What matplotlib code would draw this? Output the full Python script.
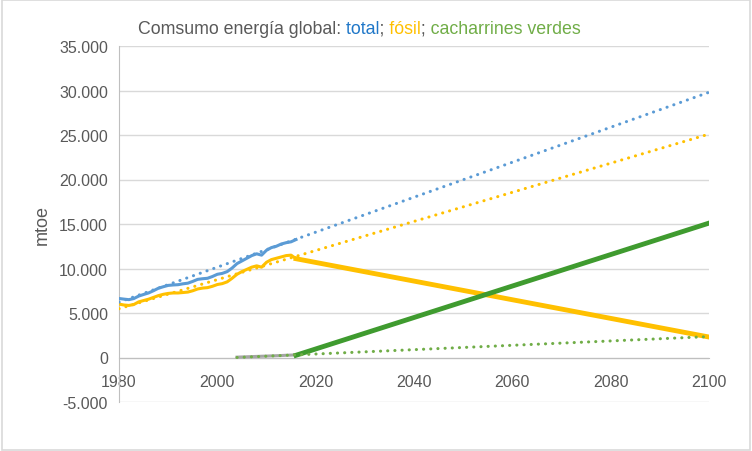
import numpy as np
import matplotlib.pyplot as plt
from matplotlib.ticker import FuncFormatter
from matplotlib.transforms import Bbox

# historical data, mtoe
years = list(range(1980, 2017))
total = [6630, 6560, 6500, 6620, 6900, 7080, 7250, 7500, 7780, 7950,
         8100, 8150, 8180, 8280, 8350, 8550, 8780, 8850, 8900, 9100,
         9350, 9450, 9650, 10050, 10550, 10850, 11150, 11450, 11650, 11500,
         12050, 12350, 12500, 12750, 12900, 13000, 13250]
fosil = [6000, 5900, 5850, 5950, 6250, 6400, 6550, 6750, 6950, 7100,
         7200, 7250, 7250, 7300, 7350, 7500, 7700, 7800, 7850, 8000,
         8200, 8300, 8500, 8900, 9350, 9650, 9900, 10150, 10300, 10150,
         10700, 11000, 11150, 11300, 11450, 11500, 11100]
verdes_years = list(range(2004, 2017))
verdes = [40, 60, 80, 100, 120, 140, 160, 180, 200, 220, 250, 270, 300]

# projections 2016 -> 2100
proj_years = [2016, 2100]
fosil_proj = [11100, 2300]
verdes_proj = [250, 15100]

# linear trend lines (endpoints)
trend_total_x = [1980, 2100]
trend_total_y = [6220, 29800]
trend_fosil_x = [1980, 2100]
trend_fosil_y = [5480, 25100]
trend_verdes_x = [2004, 2100]
trend_verdes_y = [0, 2350]

blue = "#5B9BD5"
yellow = "#FFC000"
green = "#70AD47"
dkgreen = "#3F9B2F"
grey = "#595959"

plt.rcParams['font.family'] = ['Liberation Sans', 'DejaVu Sans']

fig = plt.figure(figsize=(7.52, 4.52), dpi=100)
ax = fig.add_axes([119/752, 49/452, 590/752, 356/452])

ax.plot(years, total, color=blue, lw=2.2, zorder=3)
ax.plot(years, fosil, color=yellow, lw=2.2, zorder=3)
ax.plot(verdes_years, verdes, color="#A5A5A5", lw=2.2, zorder=3)
ax.plot(proj_years, fosil_proj, color=yellow, lw=3.5, zorder=4)
ax.plot(proj_years, verdes_proj, color=dkgreen, lw=3.5, zorder=4)

dot = dict(lw=2.2, linestyle=(0, (0.05, 2.3)), dash_capstyle='round', zorder=5)
ax.plot(trend_total_x, trend_total_y, color=blue, **dot)
ax.plot(trend_fosil_x, trend_fosil_y, color=yellow, **dot)
ax.plot(trend_verdes_x, trend_verdes_y, color=green, **dot)

ax.set_xlim(1980, 2100)
ax.set_ylim(-5000, 35000)
ax.set_xticks(range(1980, 2101, 20))
ax.set_yticks(range(-5000, 35001, 5000))
ax.yaxis.set_major_formatter(FuncFormatter(lambda v, p: f"{int(v):,}".replace(",", ".")))
ax.grid(axis='y', color="#D9D9D9", lw=1)
ax.set_axisbelow(True)

for s in ['top', 'right']:
    ax.spines[s].set_visible(False)
ax.spines['left'].set_color("#BFBFBF")
ax.spines['bottom'].set_position(('data', 0))
ax.spines['bottom'].set_color("#BFBFBF")
ax.tick_params(length=0, labelsize=11.5, colors=grey)
ax.tick_params(axis='y', pad=8)
ax.tick_params(axis='x', pad=12)
ax.set_ylabel("mtoe", fontsize=13, color=grey, labelpad=6)

# multicolour title: the whole string drawn once per colour, clipped to its piece
parts = [("Comsumo energía global: ", grey), ("total", "#1F77C8"), ("; ", grey),
         ("fósil", yellow), ("; ", grey), ("cacharrines verdes", green)]
title = "".join(p[0] for p in parts)
tx, ty, tsize = 138 / 752, 1 - 30 / 452, 12.8
fig.canvas.draw()
r = fig.canvas.get_renderer()
edges = [0]
prefix = ""
for txt, col in parts[:-1]:
    prefix += txt
    probe = fig.text(tx, ty, prefix.rstrip(), fontsize=tsize, va='center', ha='left')
    edges.append(probe.get_window_extent(renderer=r).x1 + 1.2)
    probe.remove()
edges.append(752)
for (txt, col), a, b in zip(parts, edges[:-1], edges[1:]):
    t = fig.text(tx, ty, title, color=col, fontsize=tsize, va='center', ha='left')
    t.set_clip_box(Bbox([[a, 0], [b, 452]]))
    t.set_clip_on(True)

fig.patches.append(plt.Rectangle((0.002, 0.002), 0.996, 0.996, transform=fig.transFigure,
                                 fill=False, edgecolor="#D9D9D9", lw=1.2))

fig.savefig("out.png", dpi=100)
